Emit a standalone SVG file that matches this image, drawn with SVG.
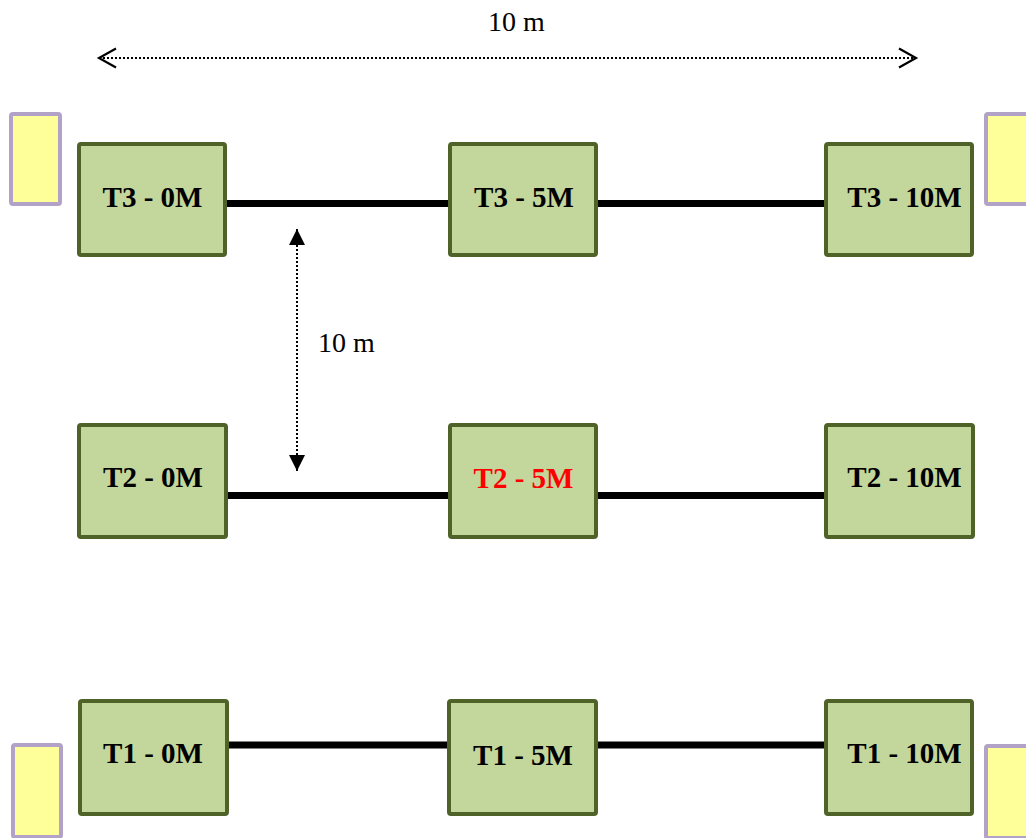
<svg xmlns="http://www.w3.org/2000/svg" width="1026" height="838" viewBox="0 0 1026 838">
  <style>
    .node { fill: #c3d69b; stroke: #4f6228; stroke-width: 4; }
    .post { fill: #ffff99; stroke: #b3a2c7; stroke-width: 4; }
    .lbl { font-family: "Liberation Serif", "Times New Roman", serif; font-weight: bold; font-size: 29px; fill: #000; text-anchor: middle; }
    .hot { fill: #ff0000; }
    .dim { font-family: "Liberation Serif", "Times New Roman", serif; font-size: 28px; fill: #000; }
    .wire { stroke: #000; stroke-width: 7; fill: none; }
    .dotted { stroke: #000; stroke-width: 2; stroke-dasharray: 2 2; fill: none; }
  </style>
  <defs>
    <marker id="tri" viewBox="0 0 16 16" refX="16" refY="8" markerWidth="16" markerHeight="16" markerUnits="userSpaceOnUse" orient="auto-start-reverse">
      <path d="M0,0 L16,8 L0,16 Z" fill="#000"/>
    </marker>
  </defs>

  <rect width="1026" height="838" fill="#fff"/>

  <!-- corner posts -->
  <g id="posts">
    <rect class="post" x="11" y="114" width="49" height="90" rx="2"/>
    <rect class="post" x="986" y="114" width="49" height="90" rx="2"/>
    <rect class="post" x="13" y="745" width="48" height="92" rx="2"/>
    <rect class="post" x="986" y="746" width="49" height="92" rx="2"/>
  </g>

  <!-- connectors between stations -->
  <g id="connectors">
    <line class="wire" x1="227" y1="203.5" x2="450" y2="203.5"/>
    <line class="wire" x1="596" y1="203.5" x2="826" y2="203.5"/>
    <line class="wire" x1="227" y1="495.5" x2="450" y2="495.5"/>
    <line class="wire" x1="596" y1="495.5" x2="826" y2="495.5"/>
    <line class="wire" x1="227" y1="745" x2="450" y2="745"/>
    <line class="wire" x1="596" y1="745" x2="826" y2="745"/>
  </g>

  <!-- dimension markers -->
  <g id="dimensions">
    <line class="dotted" x1="99" y1="58" x2="916" y2="58"/>
    <polyline points="116,48.5 99,58 116,67.5" fill="none" stroke="#000" stroke-width="2.2"/>
    <polyline points="899,48.5 916,58 899,67.5" fill="none" stroke="#000" stroke-width="2.2"/>
    <text class="dim" x="488" y="31">10 m</text>
    <line class="dotted" x1="297" y1="229" x2="297" y2="471" marker-start="url(#tri)" marker-end="url(#tri)"/>
    <text class="dim" x="318" y="352">10 m</text>
  </g>

  <!-- row T3 -->
  <g id="t3-0m"><rect class="node" x="79" y="144" width="146" height="111" rx="2"/><text class="lbl" x="152.5" y="207">T3 - 0M</text></g>
  <g id="t3-5m"><rect class="node" x="450" y="144" width="146" height="111" rx="2"/><text class="lbl" x="524" y="207">T3 - 5M</text></g>
  <g id="t3-10m"><rect class="node" x="826" y="144" width="146" height="111" rx="2"/><text class="lbl" x="904.5" y="207">T3 - 10M</text></g>

  <!-- row T2 -->
  <g id="t2-0m"><rect class="node" x="79" y="425" width="147" height="112" rx="2"/><text class="lbl" x="153" y="487">T2 - 0M</text></g>
  <g id="t2-5m"><rect class="node" x="450" y="425" width="146" height="112" rx="2"/><text class="lbl hot" x="523.5" y="488">T2 - 5M</text></g>
  <g id="t2-10m"><rect class="node" x="826" y="425" width="147" height="112" rx="2"/><text class="lbl" x="904.5" y="487">T2 - 10M</text></g>

  <!-- row T1 -->
  <g id="t1-0m"><rect class="node" x="80" y="701" width="147" height="113" rx="2"/><text class="lbl" x="153" y="763">T1 - 0M</text></g>
  <g id="t1-5m"><rect class="node" x="449" y="701" width="147" height="113" rx="2"/><text class="lbl" x="523" y="765">T1 - 5M</text></g>
  <g id="t1-10m"><rect class="node" x="826" y="701" width="146" height="113" rx="2"/><text class="lbl" x="904.5" y="763">T1 - 10M</text></g>
</svg>
